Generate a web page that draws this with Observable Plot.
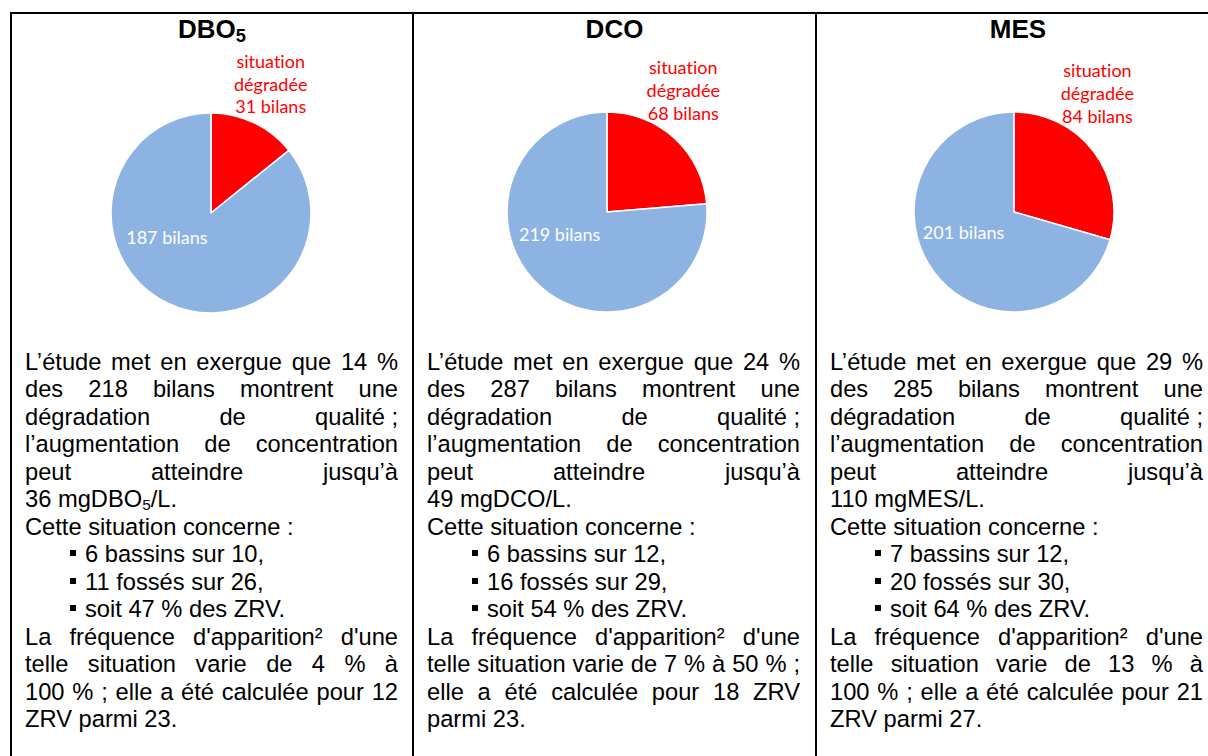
<!DOCTYPE html>
<html><head><meta charset="utf-8">
<script src="https://cdn.jsdelivr.net/npm/d3@7"></script>
<script src="https://cdn.jsdelivr.net/npm/@observablehq/plot@0.6"></script>
<style>
html,body{margin:0;padding:0;background:#fff;}
#page{position:relative;width:1208px;height:756px;overflow:hidden;background:#fff;font-family:"Liberation Sans",Arial,sans-serif;color:#000;}
.rule{position:absolute;background:#000;}
.hdr{position:absolute;font-weight:bold;font-size:26px;line-height:30px;height:30px;text-align:center;white-space:nowrap;}
.ln{position:absolute;font-size:23.7px;line-height:27.5px;height:27.5px;white-space:nowrap;}
.just{text-align:justify;text-align-last:justify;}
.sub{font-size:0.65em;vertical-align:-0.2em;line-height:1;}
.hdr .sub{font-size:0.7em;}
.ib{display:inline-block;}
.bul{position:absolute;width:6px;height:6px;background:#000;}
.pie{position:absolute;}
.pie svg text{font-variant-ligatures:none;font-feature-settings:"liga" 0;}
</style></head><body><div id="page"></div>
<script>
// ---- data ----
const parameters = ["DBO5", "DCO", "MES"];
const bilansDegrades = [31, 68, 84];
const bilansAutres = [187, 219, 201];
const bilansTotal = [218, 287, 285];
const pctDegrades = [14, 24, 29];
const concMax = [36, 49, 110];
const bassins = [6, 6, 7];
const bassinsTotal = [10, 12, 12];
const fosses = [11, 16, 20];
const fossesTotal = [26, 29, 30];
const pctZRV = [47, 54, 64];
const freqMin = [4, 7, 13];
const freqMax = [100, 50, 100];
const zrvCalc = [12, 18, 21];
const zrvParmi = [23, 23, 27];

// ---- layout ----
const cols = [[11, 413], [413, 816], [816, 1220]];
const pieCx = [211, 607, 1014];
const pieCy = [213, 212, 212];
const redNudge = [[16, -40], [8, -49], [3, -60]];
const whiteNudge = [[-23, -20], [-14, -14], [-11, -9]];
const PIE_TOP = 44, PIE_H = 286, R = 100;

const page = document.getElementById("page");
function el(cls, css, html) {
  const d = document.createElement("div");
  d.className = cls;
  Object.assign(d.style, css);
  if (html != null) d.innerHTML = html;
  page.appendChild(d);
  return d;
}

// table borders
el("rule", {left: "10px", top: "12px", width: "1212px", height: "2px"});
el("rule", {left: "10px", top: "12px", width: "2px", height: "760px"});
el("rule", {left: "412px", top: "12px", width: "2px", height: "760px"});
el("rule", {left: "815px", top: "12px", width: "2px", height: "760px"});
el("rule", {left: "1219px", top: "12px", width: "2px", height: "760px"});

const fmtParam = p => p === "DBO5" ? 'DBO<span class="sub">5</span>' : p;

function pieChart(i) {
  const data = [
    {cat: "dégradée", n: bilansDegrades[i]},
    {cat: "autres", n: bilansAutres[i]}
  ];
  const total = d3.sum(data, d => d.n);
  const left = cols[i][0] + 2;
  const W = cols[i][1] - cols[i][0] - 4;
  const cx = pieCx[i] - left, cy = pieCy[i] - PIE_TOP;
  const geom = dims => {
    const r = (dims.width - dims.marginLeft - dims.marginRight) / 2;
    return {r, cx: dims.marginLeft + r, cy: dims.marginTop + r};
  };
  const polar = k => (index, scales, values, dims, ctx, next) => {
    const g = geom(dims);
    const X = Array.from(values.x, a => g.cx + k * g.r * Math.sin(a));
    const Y = Array.from(values.x, a => g.cy - k * g.r * Math.cos(a));
    return next(index, scales, {...values, x: X, y: Y}, dims, ctx);
  };
  const svg = Plot.plot({
    width: W, height: PIE_H,
    marginLeft: cx - R, marginRight: W - cx - R,
    marginTop: cy - R, marginBottom: PIE_H - cy - R,
    x: {domain: [0, total], range: [0, 2 * Math.PI], axis: null},
    color: {domain: ["dégradée", "autres"], range: ["#ff0000", "#8db3e2"]},
    style: {fontFamily: "Lato, 'Open Sans', sans-serif", background: "transparent", overflow: "visible"},
    marks: [
      Plot.barX(data, Plot.stackX({
        x: "n", fill: "cat",
        render: (index, scales, values, dims) => {
          const g = geom(dims);
          const arc = d3.arc().innerRadius(0).outerRadius(g.r);
          const grp = d3.create("svg:g").attr("transform", `translate(${g.cx},${g.cy})`);
          for (const j of index) {
            grp.append("path")
              .attr("d", arc({startAngle: values.x1[j], endAngle: values.x2[j]}))
              .attr("fill", values.fill[j])
              .attr("stroke", "white")
              .attr("stroke-width", 1.5)
              .attr("stroke-linejoin", "round");
          }
          return grp.node();
        }
      })),
      Plot.text(data, Plot.stackX({
        x: "n",
        text: d => d.cat === "dégradée" ? `situation\ndégradée\n${d.n} bilans` : null,
        fill: "#ff0000", fontSize: 18, lineHeight: 1.27,
        dx: redNudge[i][0], dy: redNudge[i][1],
        render: polar(1)
      })),
      Plot.text(data, Plot.stackX({
        x: "n",
        text: d => d.cat === "autres" ? `${d.n} bilans` : null,
        fill: "white", fontSize: 18,
        dx: whiteNudge[i][0], dy: whiteNudge[i][1],
        render: polar(0.5)
      }))
    ]
  });
  const holder = el("pie", {left: left + "px", top: PIE_TOP + "px", width: W + "px", height: PIE_H + "px"});
  holder.appendChild(svg);
}

function lines(i) {
  const unit = parameters[i] === "DBO5" ? 'DBO<span class="sub">5</span>' : parameters[i];
  const L = [
    {t: `L’étude met en exergue que ${pctDegrades[i]} %`, j: 1},
    {t: `des ${bilansTotal[i]} bilans montrent une`, j: 1},
    {t: `dégradation de <span class="ib">qualité&nbsp;;</span>`, j: 1},
    {t: `l’augmentation de concentration`, j: 1},
    {t: `peut atteindre jusqu’à`, j: 1},
    {t: `${concMax[i]} mg${unit}/L.`, j: 0},
    {t: `Cette situation concerne :`, j: 0},
    {t: `${bassins[i]} bassins sur ${bassinsTotal[i]},`, b: 1},
    {t: `${fosses[i]} fossés sur ${fossesTotal[i]},`, b: 1},
    {t: `soit ${pctZRV[i]} % des ZRV.`, b: 1},
    {t: `La fréquence d'apparition² d'une`, j: 1}
  ];
  if (i === 1) {
    L.push({t: `telle situation varie de ${freqMin[i]} % à ${freqMax[i]} % ;`, j: 1});
    L.push({t: `elle a été calculée pour ${zrvCalc[i]} ZRV`, j: 1});
    L.push({t: `parmi ${zrvParmi[i]}.`, j: 0});
  } else {
    L.push({t: `telle situation varie de ${freqMin[i]} % à`, j: 1});
    L.push({t: `${freqMax[i]} % ; elle a été calculée pour ${zrvCalc[i]}`, j: 1});
    L.push({t: `ZRV parmi ${zrvParmi[i]}.`, j: 0});
  }
  return L;
}

parameters.forEach((p, i) => {
  const [c0, c1] = cols[i];
  // header
  el("hdr", {left: c0 + "px", width: (c1 - c0) + "px", top: "14px"}, fmtParam(p));
  // pie
  pieChart(i);
  // body text
  const tx = c0 + 14, tw = 373;
  lines(i).forEach((ln, k) => {
    const base = 370.5 + k * 27.5;
    const top = base - 22;
    if (ln.b) {
      el("bul", {left: (tx + 45) + "px", top: (base - 13) + "px"});
      el("ln", {left: (tx + 60) + "px", top: top + "px"}, ln.t);
    } else {
      el("ln" + (ln.j ? " just" : ""), {left: tx + "px", top: top + "px", width: tw + "px"}, ln.t);
    }
  });
});
</script>
</body></html>
